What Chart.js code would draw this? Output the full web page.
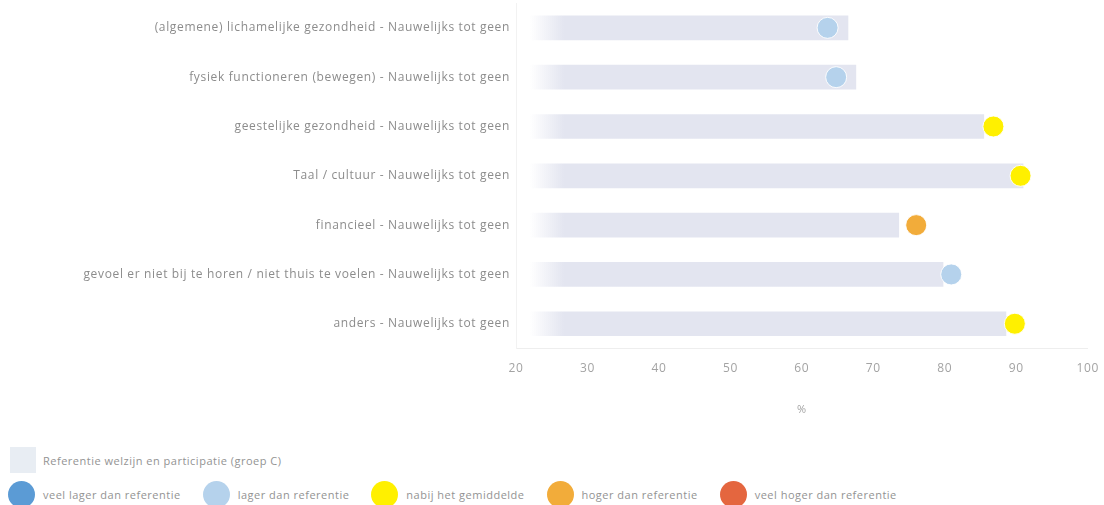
<!DOCTYPE html>
<html>
<head>
<meta charset="utf-8">
<script src="https://cdn.jsdelivr.net/npm/chart.js@4.4.1/dist/chart.umd.min.js"></script>
<style>
  body { margin: 0; background: #fff; font-family: "Open Sans", sans-serif; overflow: hidden; }
  #wrap { position: relative; top: -10px; width: 1104px; height: 440px; }
  #legend { position: absolute; left: 8px; top: 446px; font-size: 11px; color: #939393; letter-spacing: 0.5px; }
  .row { display: flex; align-items: center; height: 28px; margin-bottom: 6px; }
  .item { display: flex; align-items: center; margin-right: 22px; }
  .sw { width: 27px; height: 27px; margin-right: 8px; }
  .box { width: 26px; height: 26px; margin-left: 2px; margin-right: 7px; background: #e8edf3; }
</style>
</head>
<body>
<div id="wrap"><canvas id="myChart"></canvas></div>
<div id="legend"></div>
<script>
let labels = [
  "(algemene) lichamelijke gezondheid - Nauwelijks tot geen",
  "fysiek functioneren (bewegen) - Nauwelijks tot geen",
  "geestelijke gezondheid - Nauwelijks tot geen",
  "Taal / cultuur - Nauwelijks tot geen",
  "financieel - Nauwelijks tot geen",
  "gevoel er niet bij te horen / niet thuis te voelen - Nauwelijks tot geen",
  "anders - Nauwelijks tot geen"
];
let referentie = [66.5, 67.6, 85.5, 91.0, 73.6, 79.8, 88.6];
let veelLager = [null, null, null, null, null, null, null];
let lager = [63.6, 64.8, null, null, null, 80.9, null];
let nabij = [null, null, 86.8, 90.6, null, null, 89.8];
let hoger = [null, null, null, null, 76.0, null, null];
let veelHoger = [null, null, null, null, null, null, null];

let refLabel = "Referentie welzijn en participatie (groep C)";
let dotNames = ["veel lager dan referentie", "lager dan referentie", "nabij het gemiddelde", "hoger dan referentie", "veel hoger dan referentie"];
let dotColors = ["#5b9bd5", "#b5d2ec", "#fff000", "#f2ac3a", "#e4663f"];
let dotData = [veelLager, lager, nabij, hoger, veelHoger];

function barFill(ctx) {
  let chart = ctx.chart;
  let area = chart.chartArea;
  if (!area) return "#e3e5f0";
  let g = chart.ctx.createLinearGradient(area.left + 14, 0, area.left + 48, 0);
  g.addColorStop(0, "rgba(227,229,240,0)");
  g.addColorStop(1, "rgba(227,229,240,1)");
  return g;
}

let datasets = [{
  type: "bar",
  label: refLabel,
  data: referentie,
  backgroundColor: barFill,
  barPercentage: 0.5,
  categoryPercentage: 1,
  order: 2
}];
for (let i = 0; i < dotNames.length; i++) {
  datasets.push({
    type: "line",
    label: dotNames[i],
    data: dotData[i],
    showLine: false,
    pointRadius: 10.5,
    pointHoverRadius: 10.5,
    pointBackgroundColor: dotColors[i],
    pointBorderColor: "rgba(255,255,255,0.9)",
    pointBorderWidth: 1,
    order: 1
  });
}

// the original text is spaced out a bit, canvas needs it set before measure and draw
let spacing = {
  id: "spacing",
  beforeLayout: (chart) => { chart.ctx.letterSpacing = "0.65px"; },
  beforeDraw: (chart) => { chart.ctx.letterSpacing = "0.65px"; }
};

new Chart("myChart", {
  type: "bar",
  data: { labels: labels, datasets: datasets },
  plugins: [spacing],
  options: {
    indexAxis: "y",
    responsive: true,
    maintainAspectRatio: false,
    animation: false,
    layout: { padding: { top: 0, right: 16, left: 0, bottom: 10 } },
    plugins: { legend: { display: false }, tooltip: { enabled: false } },
    scales: {
      x: {
        min: 20,
        max: 100,
        ticks: { stepSize: 10, color: "#a3a3a3", font: { family: "Open Sans", size: 12 }, padding: 5 },
        grid: { display: false },
        border: { color: "#eeeeee" },
        title: { display: true, text: "%", color: "#a3a3a3", font: { family: "Open Sans", size: 11 }, padding: { top: 22 } }
      },
      y: {
        afterFit: (s) => { s.width = 516; },
        ticks: { color: "#8c8c8c", font: { family: "Open Sans", size: 12 }, padding: 6 },
        grid: { display: false, drawTicks: false },
        border: { color: "#f2f2f2" }
      }
    }
  }
});

// legend in two rows like the original
let legend = document.getElementById("legend");
legend.innerHTML =
  `<div class="row"><div class="item"><div class="box"></div>${refLabel}</div></div>` +
  `<div class="row">` +
  dotNames.map((n, i) => `<div class="item"><div class="sw" style="background:${dotColors[i]};border-radius:50%"></div>${n}</div>`).join("") +
  `</div>`;
</script>
</body>
</html>
